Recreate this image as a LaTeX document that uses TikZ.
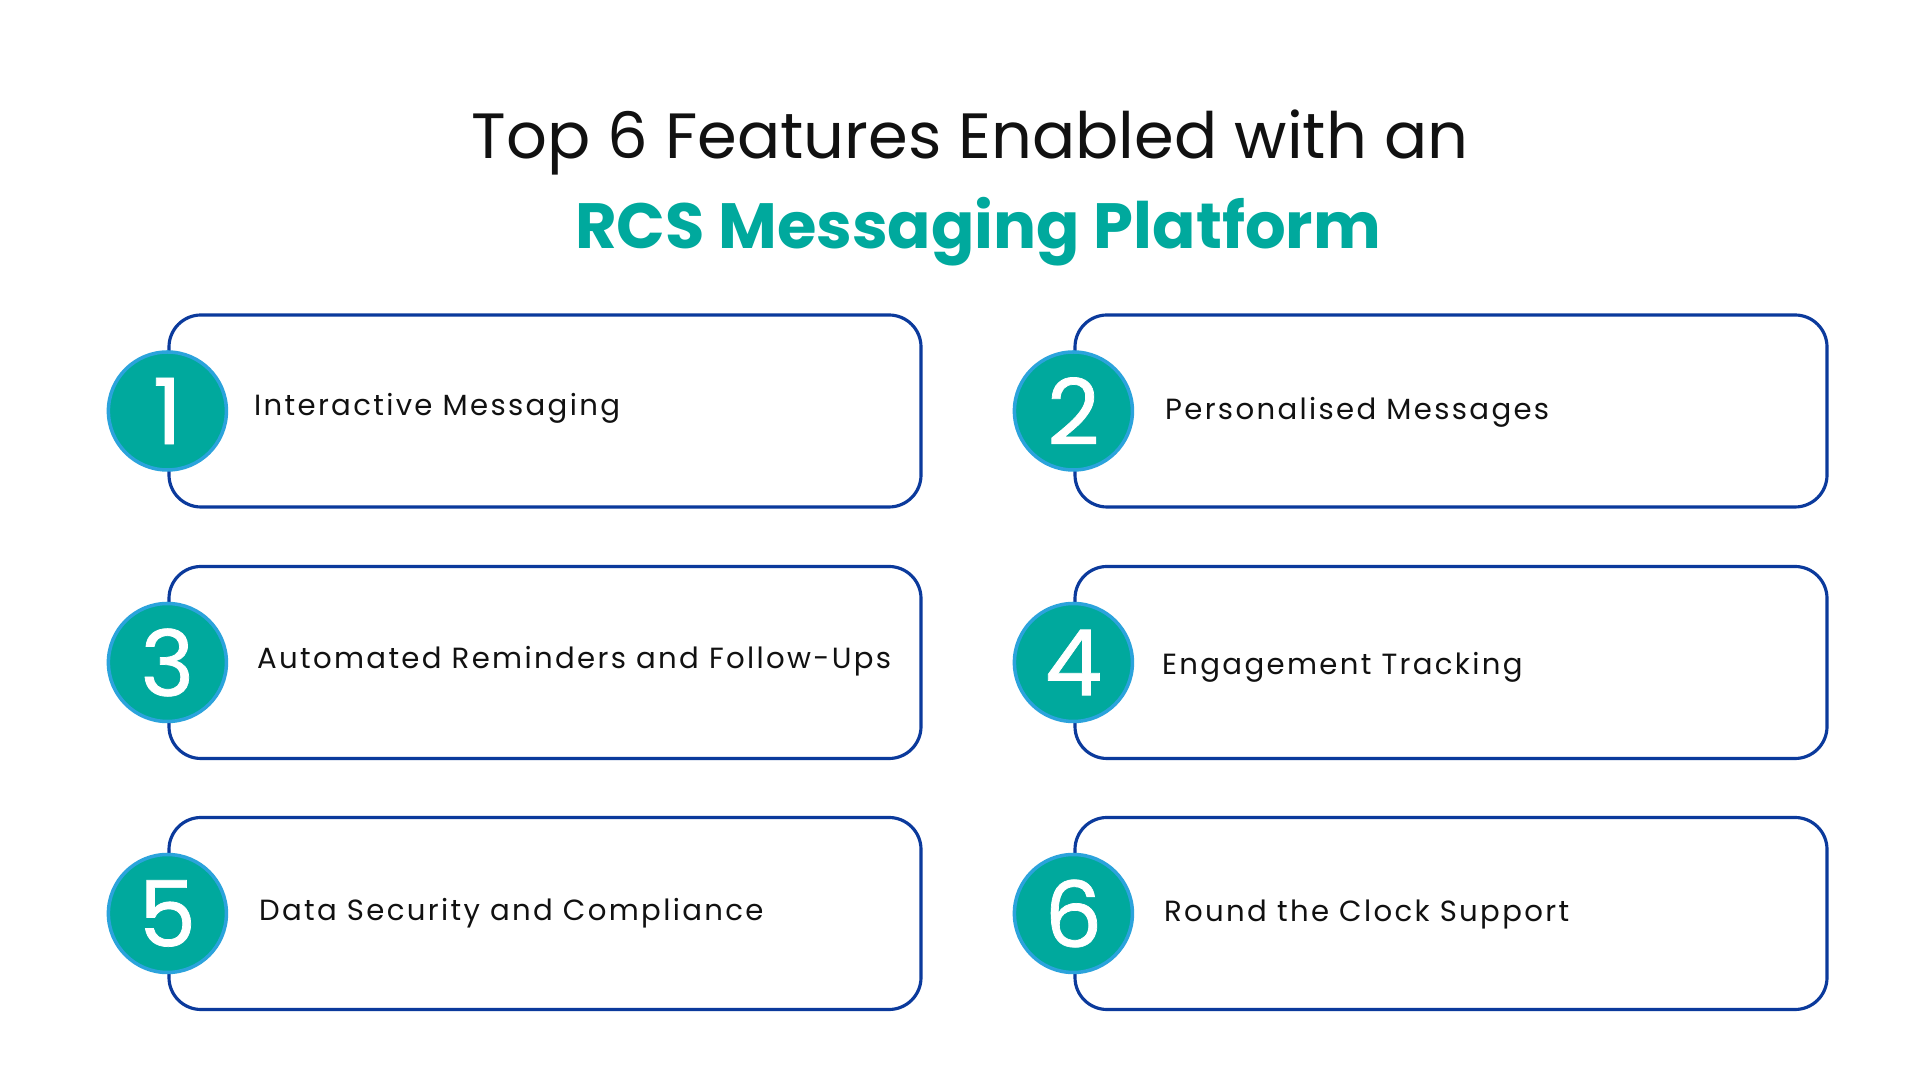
\documentclass[tikz,border=0pt]{standalone}
\usepackage{fontspec}
\setmainfont{Poppins}
\newfontfamily\itemfont{Poppins}[LetterSpace=8]
\newfontfamily\numfont{Poppins}[FakeBold=0.8]
\usetikzlibrary{positioning}
\definecolor{rcsteal}{HTML}{00A99D}
\definecolor{rcsring}{HTML}{2BA3DC}
\definecolor{rcsnavy}{HTML}{0B3A9C}
\definecolor{ink}{HTML}{111111}

\begin{document}
\begin{tikzpicture}[
  featbox/.style={draw=rcsnavy,line width=.9pt,rounded corners=.32cm,
                  minimum width=7.52cm,minimum height=1.92cm,fill=white},
  numdot/.style={circle,fill=rcsteal,draw=rcsring,line width=1pt,
                 minimum size=1.18cm,inner sep=0pt,text=white,
                 font=\numfont\fontsize{26}{26}\selectfont},
  feat/.style={inner sep=0pt,anchor=base west,text=ink,
               font=\itemfont\fontsize{8.3}{10}\selectfont}
]
\useasboundingbox[fill=white] (0,0) rectangle (19.2,10.8);
\node[anchor=base,inner sep=0pt,text=ink,font=\fontsize{18.2}{22}\selectfont] (title) at (9.70,9.21) {Top 6 Features Enabled with an};
\node[anchor=base,inner sep=0pt,text=rcsteal,font=\bfseries\fontsize{18.2}{22}\selectfont] (subtitle) at (9.78,8.31) {RCS Messaging Platform};
\node[featbox] (b1) at (5.45,6.69) {};
\node[featbox] (b2) at (14.51,6.69) {};
\node[featbox] (b3) at (5.45,4.175) {};
\node[featbox] (b4) at (14.51,4.175) {};
\node[featbox] (b5) at (5.45,1.665) {};
\node[featbox] (b6) at (14.51,1.665) {};
\node[numdot] (n1) at (b1.west) {1};
\node[numdot] (n2) at (b2.west) {2};
\node[numdot] (n3) at (b3.west) {3};
\node[numdot] (n4) at (b4.west) {4};
\node[numdot] (n5) at (b5.west) {5};
\node[numdot] (n6) at (b6.west) {6};
\node[feat] (t1) at ([xshift=.86cm,yshift=-.05cm]b1.west) {Interactive Messaging};
\node[feat] (t2) at ([xshift=.91cm,yshift=-.09cm]b2.west) {Personalised Messages};
\node[feat] (t3) at ([xshift=.89cm,yshift=-.06cm]b3.west) {Automated Reminders and Follow-Ups};
\node[feat] (t4) at ([xshift=.88cm,yshift=-.12cm]b4.west) {Engagement Tracking};
\node[feat] (t5) at ([xshift=.91cm,yshift=-.07cm]b5.west) {Data Security and Compliance};
\node[feat] (t6) at ([xshift=.90cm,yshift=-.08cm]b6.west) {Round the Clock Support};
\end{tikzpicture}
\end{document}
